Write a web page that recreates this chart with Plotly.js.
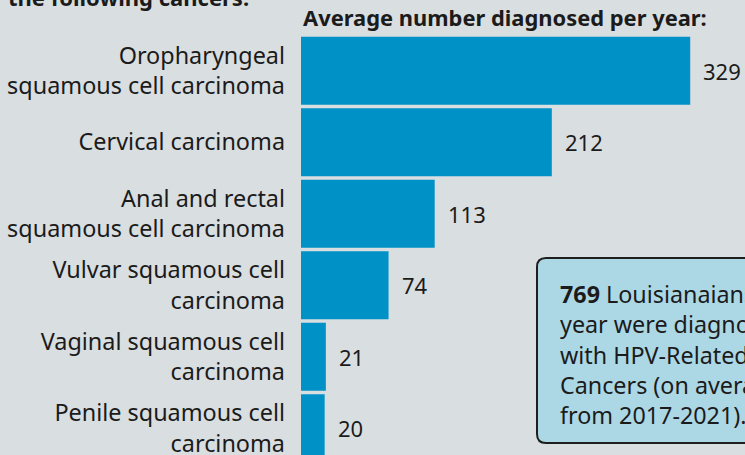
<!DOCTYPE html>
<html>
<head>
<meta charset="utf-8">
<script src="https://cdn.plot.ly/plotly-3.0.1.min.js"></script>
<style>
html,body{margin:0;padding:0;background:#d9dee0;}
#chart{width:745px;height:455px;}
</style>
</head>
<body>
<div id="chart"></div>
<script>
// Data
const categories = [
  "Oropharyngeal<br>squamous cell carcinoma",
  "Cervical carcinoma",
  "Anal and rectal<br>squamous cell carcinoma",
  "Vulvar squamous cell<br>carcinoma",
  "Vaginal squamous cell<br>carcinoma",
  "Penile squamous cell<br>carcinoma"
];
const values = [329, 212, 113, 74, 21, 20];
const valueLabels = ["329", "212", "113", "74", "21", "20"];
const chartTitle = "Average number diagnosed per year:";
const headingTail = "the following cancers:";
const boxText = "<b>769</b> Louisianaians each<br>year were diagnosed<br>with HPV-Related<br>Cancers (on average<br>from 2017-2021).";

const FONT = "'Noto Sans', Roboto, sans-serif";
const TXT = "#1b1b1b";
const BG = "#d9dee0";

const trace = {
  type: "bar",
  orientation: "h",
  x: values,
  y: categories,
  marker: {color: "#0091c7", line: {width: 0}},
  hoverinfo: "none"
};

const W = 444, H = 420; // plot area in px
const px = v => v / W, py = v => v / H;

// rounded rect box in paper coords
const bx0 = (537 - 301) / W, bx1 = 1.1;
const by0 = (455 - 443) / H, by1 = (455 - 258) / H;
const rx = px(9), ry = py(9);
const boxPath = `M ${bx0+rx},${by1} L ${bx1},${by1} L ${bx1},${by0} L ${bx0+rx},${by0} Q ${bx0},${by0} ${bx0},${by0+ry} L ${bx0},${by1-ry} Q ${bx0},${by1} ${bx0+rx},${by1} Z`;

const annotations = values.map((v, i) => ({
  x: v, y: categories[i], xref: "x", yref: "y",
  text: valueLabels[i], showarrow: false,
  xanchor: "left", yanchor: "middle", xshift: 11,
  font: {family: FONT, size: 22, color: TXT}
}));
annotations.push({
  x: 0, y: 1 + 17 / H, xref: "paper", yref: "paper",
  text: "<b>" + chartTitle + "</b>", showarrow: false,
  xanchor: "left", yanchor: "middle", xshift: 0,
  font: {family: FONT, size: 21.9, color: TXT}
});
annotations.push({
  x: (6 - 301) / W, y: (455 + 3) / H, xref: "paper", yref: "paper",
  text: "<b>" + headingTail + "</b>", showarrow: false,
  xanchor: "left", yanchor: "middle",
  font: {family: FONT, size: 22, color: TXT}
});
annotations.push({
  x: (558 - 301) / W, y: (455 - 354) / H, xref: "paper", yref: "paper",
  text: boxText, showarrow: false, align: "left",
  xanchor: "left", yanchor: "middle",
  font: {family: FONT, size: 23.3, color: TXT}
});

const layout = {
  width: 745, height: 455,
  margin: {l: 301, r: 0, t: 35, b: 0, pad: 0},
  paper_bgcolor: BG, plot_bgcolor: BG,
  bargap: 0.048,
  showlegend: false,
  xaxis: {range: [0, 375.3], visible: false, fixedrange: true},
  yaxis: {
    type: "category", range: [5.374, -0.5],
    showgrid: false, zeroline: false, showline: false,
    ticks: "", ticklabelstandoff: 15,
    tickfont: {family: FONT, size: 23.4, color: TXT},
    fixedrange: true
  },
  shapes: [{
    type: "path", path: boxPath, xref: "paper", yref: "paper",
    fillcolor: "#acd8e6", line: {color: "#1e1e1e", width: 2}, layer: "above"
  }],
  annotations: annotations
};

Plotly.newPlot("chart", [trace], layout, {displayModeBar: false, staticPlot: true});
</script>
</body>
</html>
